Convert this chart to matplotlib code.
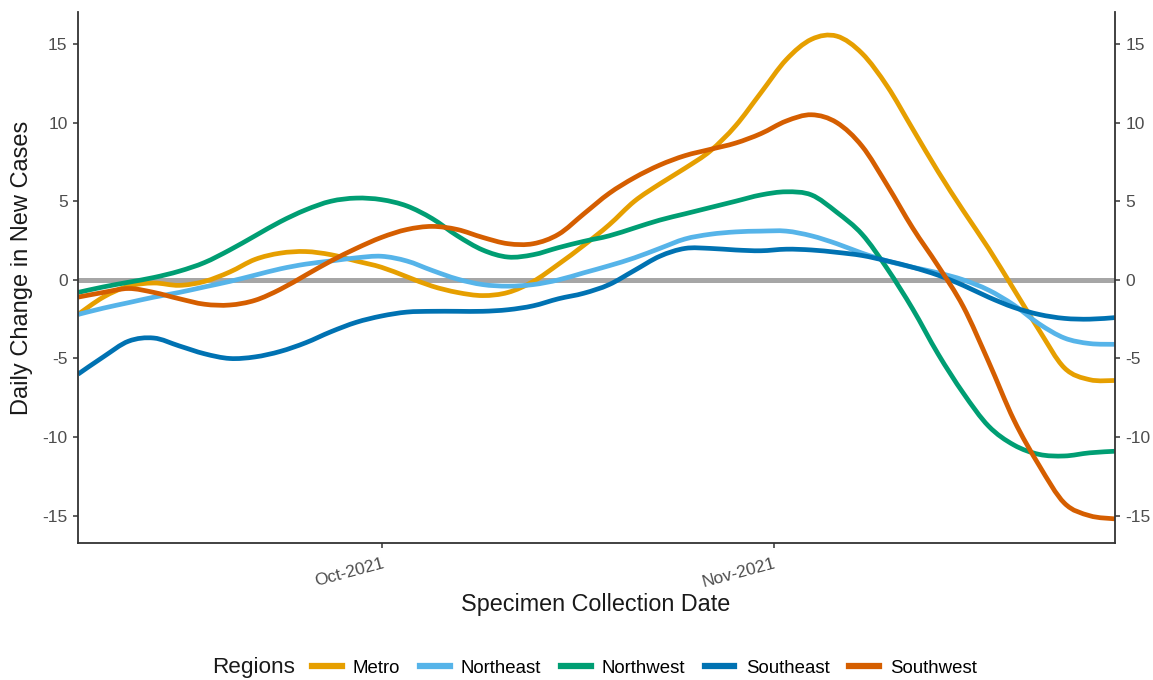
import numpy as np
import pandas as pd
import matplotlib
matplotlib.use("Agg")
import matplotlib.pyplot as plt
import matplotlib.dates as mdates
from matplotlib.path import Path
from matplotlib.patches import PathPatch
from matplotlib.lines import Line2D

plt.rcParams['font.family'] = ['Liberation Sans', 'DejaVu Sans']
plt.rcParams['axes.unicode_minus'] = False

# specimen collection dates, every second day
dates = pd.date_range('2021-09-07', '2021-11-28', freq='2D')

regions = ['Metro', 'Northeast', 'Northwest', 'Southeast', 'Southwest']
region_colors = ['#E69F00', '#56B4E9', '#009E73', '#0072B2', '#D55E00']

metro = [-2.2, -1.1, -0.4, -0.2, -0.35, -0.1, 0.5, 1.3, 1.7, 1.8, 1.6, 1.2, 0.8, 0.2,
         -0.4, -0.8, -1.0, -0.8, -0.1, 1.0, 2.2, 3.5, 5.0, 6.1, 7.1, 8.2, 9.8, 11.9,
         14.0, 15.3, 15.5, 14.4, 12.3, 9.6, 6.9, 4.4, 2.0, -0.6, -3.2, -5.6, -6.35, -6.4]
northeast = [-2.2, -1.8, -1.45, -1.1, -0.8, -0.45, -0.1, 0.3, 0.7, 1.0, 1.2, 1.4, 1.5, 1.2,
             0.6, 0.05, -0.3, -0.4, -0.3, 0.0, 0.45, 0.9, 1.4, 2.0, 2.6, 2.9, 3.05, 3.1,
             3.1, 2.8, 2.3, 1.7, 1.2, 0.8, 0.45, 0.0, -0.65, -1.6, -2.8, -3.7, -4.05, -4.1]
northwest = [-0.8, -0.45, -0.15, 0.15, 0.55, 1.1, 1.9, 2.8, 3.7, 4.45, 5.0, 5.2, 5.1, 4.7,
             3.9, 2.8, 1.9, 1.45, 1.6, 2.05, 2.45, 2.8, 3.3, 3.8, 4.2, 4.6, 5.0, 5.4,
             5.6, 5.4, 4.3, 2.9, 0.7, -1.85, -4.7, -7.2, -9.3, -10.5, -11.1, -11.2, -11.0, -10.9]
southeast = [-6.0, -4.9, -3.9, -3.7, -4.2, -4.7, -5.0, -4.9, -4.55, -4.0, -3.3, -2.7, -2.3, -2.05,
             -2.0, -2.0, -2.0, -1.9, -1.65, -1.2, -0.85, -0.3, 0.6, 1.5, 2.0, 2.0, 1.9, 1.85,
             1.95, 1.9, 1.75, 1.55, 1.2, 0.8, 0.3, -0.35, -1.1, -1.75, -2.2, -2.45, -2.5, -2.4]
southwest = [-1.1, -0.8, -0.55, -0.8, -1.2, -1.55, -1.6, -1.3, -0.6, 0.3, 1.2, 2.0, 2.7, 3.2,
             3.4, 3.2, 2.7, 2.3, 2.3, 2.9, 4.2, 5.5, 6.5, 7.3, 7.9, 8.3, 8.7, 9.3,
             10.1, 10.5, 10.0, 8.5, 6.0, 3.3, 0.9, -1.7, -5.2, -8.9, -11.8, -14.2, -15.0, -15.2]

series = [metro, northeast, northwest, southeast, southwest]

y_ticks = [-15, -10, -5, 0, 5, 10, 15]
x_ticks = ['2021-10-01', '2021-11-01']


def smooth_path(xs, ys):
    # draw a curve through the points (Catmull-Rom as cubic bezier segments)
    pts = np.column_stack([xs, ys])
    ext = np.vstack([pts[0], pts, pts[-1]])
    verts = [pts[0]]
    codes = [Path.MOVETO]
    for i in range(1, len(ext) - 2):
        p0, p1, p2, p3 = ext[i - 1], ext[i], ext[i + 1], ext[i + 2]
        verts += [p1 + (p2 - p0) / 6, p2 - (p3 - p1) / 6, p2]
        codes += [Path.CURVE4] * 3
    return Path(verts, codes)


fig = plt.figure(figsize=(11.53, 6.8), dpi=100)
ax = fig.add_axes([78 / 1153, 1 - 543 / 680, 1037 / 1153, 531 / 680])

ax.axhline(0, color='#A6A6A6', lw=3.6, zorder=1)
xnum = mdates.date2num(dates)
handles = []
for name, vals, col in zip(regions, series, region_colors):
    ax.add_patch(PathPatch(smooth_path(xnum, vals), fill=False, edgecolor=col,
                           lw=3.4, capstyle='butt', zorder=2))
    handles.append(Line2D([], [], color=col, lw=4.5, label=name))

# ggplot style 5% expansion on y, none on x
all_vals = np.concatenate([np.array(s) for s in series])
lo, hi = all_vals.min(), all_vals.max()
pad = 0.05 * (hi - lo)
ax.set_ylim(lo - pad, hi + pad)
ax.set_xlim(dates[0], dates[-1])

ax.set_yticks(y_ticks)
ax.set_xticks(pd.to_datetime(x_ticks))
ax.xaxis.set_major_formatter(mdates.DateFormatter('%b-%Y'))

for s in ['left', 'right', 'bottom']:
    ax.spines[s].set_color('#333333')
    ax.spines[s].set_linewidth(1.3)
ax.spines['top'].set_visible(False)

ax.tick_params(axis='y', which='both', left=True, right=True, labelleft=True,
               labelright=True, length=3.5, width=1.1, color='#333333',
               labelsize=12.5, labelcolor='#4D4D4D', pad=4)
ax.tick_params(axis='x', length=3.5, width=1.1, color='#333333',
               labelsize=12.5, labelcolor='#4D4D4D', pad=6)
for lab in ax.get_xticklabels():
    lab.set_rotation(15)
    lab.set_ha('right')
    lab.set_rotation_mode('anchor')

fig.text(596 / 1153, 1 - 604 / 680, 'Specimen Collection Date', ha='center',
         va='center', fontsize=16.8, color='#1A1A1A')
fig.text(22 / 1153, 1 - 268 / 680, 'Daily Change in New Cases', ha='center',
         va='center', rotation=90, fontsize=17, color='#1A1A1A')

fig.text(212 / 1153, 1 - 668 / 680, 'Regions', ha='left', va='center',
         fontsize=16.2, color='#1A1A1A')
leg = fig.legend(handles=handles, loc='center left',
                 bbox_to_anchor=(312 / 1153, 1 - 668 / 680), ncol=5,
                 frameon=False, fontsize=13.4, handlelength=1.6,
                 handletextpad=0.6, columnspacing=1.05, borderpad=0,
                 borderaxespad=0)

fig.savefig('out.png', dpi=100)
